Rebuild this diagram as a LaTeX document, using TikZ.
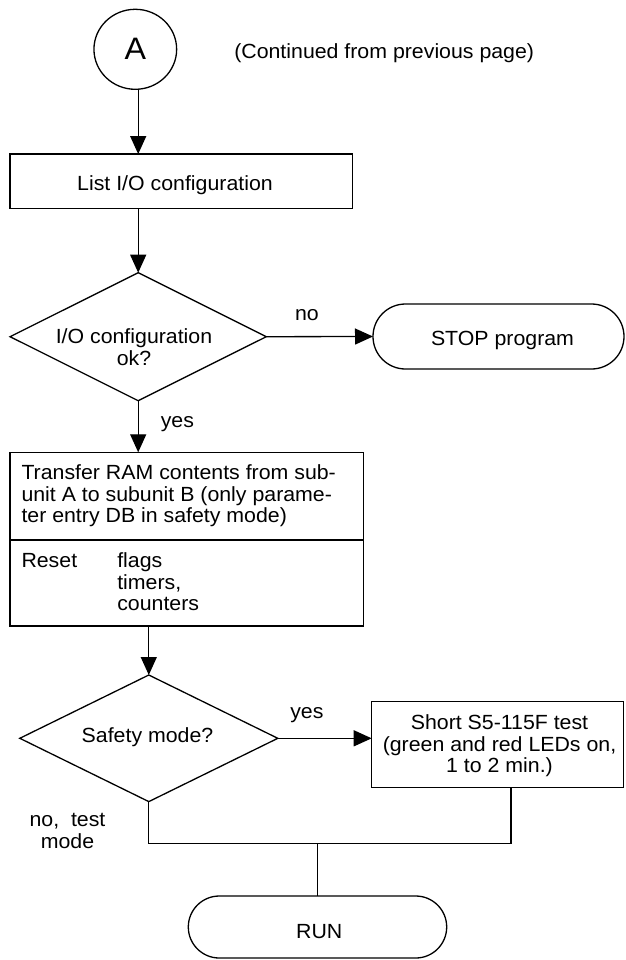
\documentclass[tikz,border=0pt]{standalone}
\usepackage{fontspec}
\setmainfont{Liberation Sans}[FakeStretch=1.04]
\usetikzlibrary{shapes.geometric,shapes.misc,arrows.meta}
\begin{document}
\begin{tikzpicture}[x=1pt,y=-1pt,line width=1.3pt,
  every node/.style={inner sep=0pt,outer sep=0pt},
  txt/.style={font=\fontsize{20.5}{21.7}\selectfont},
  arr/.style={-{Triangle[length=18pt,width=16pt]}},
  procbox/.style={draw,rectangle},
  decide/.style={draw,diamond},
  termin/.style={draw,rounded rectangle}]
\useasboundingbox (0,0) rectangle (625,960);

% connector A
\node[draw,ellipse,minimum width=82.7pt,minimum height=80pt,font=\fontsize{31}{31}\selectfont] (a) at (135.3,49.3) {A};
\node[txt,anchor=base] (cont) at (384.2,59) {(Continued from previous page)};

% list I/O
\node[procbox,minimum width=342.7pt,minimum height=54.3pt] (box1) at (181.4,181.2) {};
\node[txt,anchor=base] (box1t) at (175,190) {List I/O configuration};

% decision 1
\node[decide,minimum width=256.2pt,minimum height=128pt] (d1) at (138.2,336.7) {};
\node[txt,anchor=base] (d1t) at (134,343.3) {\begin{tabular}[t]{@{}c@{}}I/O configuration\\ok?\end{tabular}};
\node[txt,anchor=base] (no1) at (306.9,320.3) {no};

% stop
\node[termin,minimum width=251pt,minimum height=65pt] (stop) at (498.5,336.5) {};
\node[txt,anchor=base] (stopt) at (502.5,345) {STOP program};

\node[txt,anchor=base] (yes1) at (177.4,427) {yes};

% box 2
\node[procbox,minimum width=353.5pt,minimum height=173.7pt] (box2) at (186.75,539.15) {};
\coordinate (div) at (0,540);
\draw (box2.west |- div) -- (box2.east |- div);
\node[txt,anchor=base west] (box2t) at (21.5,479.5) {\begin{tabular}[t]{@{}l@{}}Transfer RAM contents from sub-\\unit A to subunit B (only parame-\\ter entry DB in safety mode)\end{tabular}};
\node[txt,anchor=base west] (reset) at (21.5,567.3) {Reset};
\node[txt,anchor=base west] (flags) at (117.3,567.3) {\begin{tabular}[t]{@{}l@{}}flags\\timers,\\counters\end{tabular}};

% decision 2
\node[decide,minimum width=258pt,minimum height=126.6pt] (d2) at (148.8,738.3) {};
\node[txt,anchor=base] (d2t) at (147.5,742.3) {Safety mode?};
\node[txt,anchor=base] (yes2) at (306.9,718.6) {yes};

% box 3
\node[procbox,minimum width=252.1pt,minimum height=85.6pt] (box3) at (497.75,744.5) {};
\node[txt,anchor=base] (box3t) at (499.5,729.3) {\begin{tabular}[t]{@{}c@{}}Short S5-115F test\\(green and red LEDs on,\\1 to 2 min.)\end{tabular}};

\node[txt,anchor=base] (notest) at (67.5,826.7) {\begin{tabular}[t]{@{}c@{}}no,\ \ test\\mode\end{tabular}};

% run
\node[termin,minimum width=258.4pt,minimum height=62pt] (run) at (317.5,927) {};
\node[txt,anchor=base] (runt) at (319.2,938.3) {RUN};

% connectors
\draw[arr] (d1.north |- a.south) -- (d1.north |- box1.north);
\draw[arr] (d1.north |- box1.south) -- (d1.north);
\draw[arr] (d1.east) -- (stop.west);
\draw[arr] (d1.south) -- (d1.south |- box2.north);
\draw[arr] (d2.north |- box2.south) -- (d2.north);
\draw[arr] (d2.east) -- (d2.east -| box3.west);
\coordinate (j) at (511,843.3);
\draw (d2.south) |- (j) -- (j |- box3.south);
\draw (run.north |- j) -- (run.north);
\end{tikzpicture}
\end{document}
